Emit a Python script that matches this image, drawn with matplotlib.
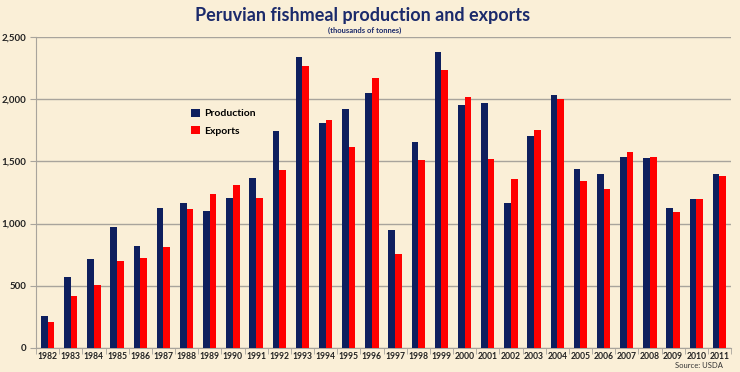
import matplotlib
matplotlib.use("Agg")
import matplotlib.pyplot as plt
import numpy as np
from matplotlib.ticker import FuncFormatter, FixedLocator

years = [str(y) for y in range(1982, 2012)]
production = [255, 566, 717, 972, 819, 1128, 1162, 1098, 1208, 1369,
              1745, 2338, 1807, 1922, 2048, 948, 1656, 2378, 1952, 1970,
              1165, 1702, 2035, 1442, 1401, 1533, 1525, 1128, 1200, 1399]
exports = [209, 419, 505, 698, 722, 811, 1117, 1235, 1310, 1203,
           1431, 2271, 1834, 1616, 2169, 752, 1511, 2234, 2016, 1517,
           1358, 1756, 2005, 1345, 1278, 1576, 1538, 1090, 1195, 1385]
yticks = [0, 500, 1000, 1500, 2000, 2500]

plt.rcParams['font.family'] = ['Lato', 'DejaVu Sans']
bg = '#FAEFD7'
navy = '#0E1F5E'
red = '#FF0000'

fig = plt.figure(figsize=(7.4, 3.72), dpi=100, facecolor=bg)
ax = fig.add_axes([36/740, 1-347.7/372, (731-36)/740, (347.7-37.3)/372])
ax.set_facecolor(bg)

x = np.arange(len(years))
w = 0.29
ax.bar(x - w/2, production, width=w, color=navy, label='Production', zorder=3)
ax.bar(x + w/2, exports, width=w, color=red, label='Exports', zorder=3)

ax.set_xlim(-0.5, len(years) - 0.5)
ax.set_ylim(0, 2500)
ax.set_yticks(yticks)
ax.yaxis.set_major_formatter(FuncFormatter(lambda v, p: f"{int(v):,}"))
ax.grid(axis='y', color='#A8A49C', linewidth=1, zorder=0)
ax.set_xticks(x)
ax.set_xticklabels(years, fontsize=6.2, fontweight='bold', color='#222222')
ax.xaxis.set_minor_locator(FixedLocator(np.arange(-0.5, len(years), 1)))
ax.tick_params(axis='x', which='major', length=0, pad=3)
ax.tick_params(axis='x', which='minor', length=4, color='#A8A49C')
ax.tick_params(axis='y', length=4, color='#A8A49C', labelsize=7, pad=3)
for lab in ax.get_yticklabels():
    lab.set_fontweight('bold')
    lab.set_color('#222222')
for s in ['top', 'right']:
    ax.spines[s].set_visible(False)
for s in ['left', 'bottom']:
    ax.spines[s].set_color('#A8A49C')

leg = ax.legend(loc='upper left', bbox_to_anchor=(0.21, 0.80), frameon=False,
                prop={'weight': 'bold', 'size': 7.5}, handlelength=0.8,
                handleheight=0.8, handletextpad=0.4, labelspacing=0.75)

fig.text(363/740, 1-15/372, 'Peruvian fishmeal production and exports',
         ha='center', va='center', fontsize=13, fontweight='bold', color='#1B2A6B')
fig.text(365/740, 1-30/372, '(thousands of tonnes)', ha='center', va='center',
         fontsize=5.5, fontweight='bold', color='#1B2A6B')
fig.text(723/740, 1-366/372, 'Source: USDA', ha='right', va='center',
         fontsize=5.5, color='#333333')

fig.savefig('out.png', dpi=100, facecolor=bg)
